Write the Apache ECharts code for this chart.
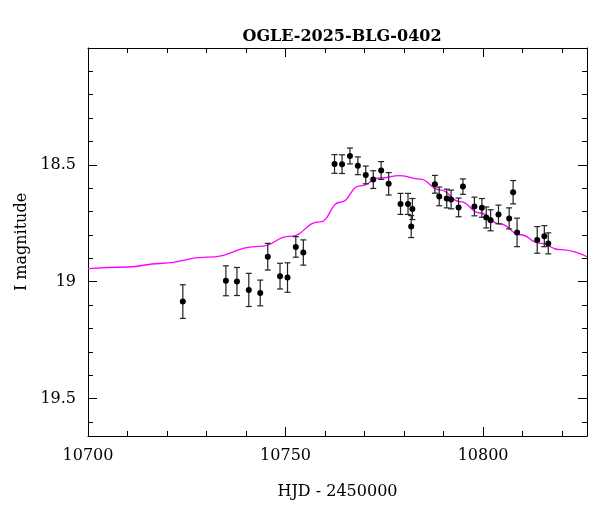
<!DOCTYPE html>
<html>
<head>
<meta charset="utf-8">
<script src="https://cdn.jsdelivr.net/npm/echarts@6/dist/echarts.min.js"></script>
<style>html,body{margin:0;background:#fff}#c{width:600px;height:512px}</style>
</head>
<body>
<div id="c"></div>
<script>
// observed points
var hjd = [10724.0, 10734.9, 10737.7, 10740.7, 10743.6, 10745.5, 10748.6, 10750.5, 10752.6, 10754.5,
    10762.4, 10764.3, 10766.3, 10768.3, 10770.3, 10772.2, 10774.2, 10776.1, 10779.1, 10781.0, 10782.1, 10781.8,
    10787.8, 10788.9, 10790.8, 10791.9, 10793.8, 10794.9, 10797.8, 10799.7, 10800.8, 10801.9, 10803.9,
    10806.6, 10807.6, 10808.6, 10813.7, 10815.5, 10816.5];
var mag = [19.085, 18.996, 18.999, 19.035, 19.048, 18.893, 18.976, 18.982, 18.851, 18.875,
    18.496, 18.497, 18.462, 18.504, 18.543, 18.563, 18.524, 18.581, 18.667, 18.667, 18.689, 18.764,
    18.583, 18.635, 18.644, 18.648, 18.682, 18.593, 18.678, 18.684, 18.725, 18.737, 18.712,
    18.729, 18.617, 18.789, 18.821, 18.805, 18.836];
var err = [0.072, 0.064, 0.060, 0.071, 0.055, 0.057, 0.055, 0.063, 0.044, 0.054,
    0.040, 0.040, 0.034, 0.038, 0.038, 0.038, 0.038, 0.048, 0.045, 0.045, 0.045, 0.047,
    0.038, 0.040, 0.040, 0.040, 0.040, 0.033, 0.040, 0.040, 0.045, 0.045, 0.040,
    0.045, 0.050, 0.061, 0.057, 0.045, 0.045];

// model curve
var modelT = [10700, 10710, 10718.2, 10730, 10743.5, 10751.1, 10758.7, 10763.8, 10768.9, 10773.9, 10779,
    10784, 10789.1, 10794.2, 10799.2, 10804.3, 10809.4, 10814.4, 10819.5, 10826.3];
var modelMag = [18.944, 18.937, 18.922, 18.895, 18.849, 18.806, 18.744, 18.66, 18.59, 18.556, 18.546,
    18.561, 18.607, 18.657, 18.706, 18.753, 18.799, 18.835, 18.863, 18.893];

var font = 'DejaVu Serif';
var chart = echarts.init(document.getElementById('c'));

var pts = hjd.map(function (t, i) { return [t, mag[i], err[i]]; });
var model = modelT.map(function (t, i) { return [t, modelMag[i]]; });

function xAxisDef(pos, labels) {
    return {
        type: 'value', position: pos, min: 10700, max: 10826.3, interval: 50,
        axisLine: { show: true, onZero: false, lineStyle: { color: '#000', width: 1 } },
        axisTick: { inside: true, length: 9, lineStyle: { color: '#000' } },
        minorTick: { show: true, splitNumber: 5, length: 5, lineStyle: { color: '#000' } },
        axisLabel: {
            show: labels, color: '#000', fontFamily: font, fontSize: 16, margin: 12, showMaxLabel: false,
            formatter: function (v) { return String(v); }
        },
        splitLine: { show: false },
        name: labels ? 'HJD - 2450000' : '', nameLocation: 'middle', nameGap: 48,
        nameTextStyle: { color: '#000', fontFamily: font, fontSize: 16 }
    };
}
function yAxisDef(pos, labels) {
    return {
        type: 'value', position: pos, inverse: true, min: 18, max: 19.66, interval: 0.5,
        axisLine: { show: true, onZero: false, lineStyle: { color: '#000', width: 1 } },
        axisTick: { inside: true, length: 9, lineStyle: { color: '#000' } },
        minorTick: { show: true, splitNumber: 5, length: 5, lineStyle: { color: '#000' } },
        axisLabel: {
            show: labels, color: '#000', fontFamily: font, fontSize: 16, margin: 12, showMaxLabel: false,
            formatter: function (v) { return v === 18 ? '' : String(v); }
        },
        splitLine: { show: false },
        name: labels ? 'I magnitude' : '', nameLocation: 'middle', nameGap: 58,
        nameTextStyle: { color: '#000', fontFamily: font, fontSize: 16 }
    };
}

chart.setOption({
    animation: false,
    title: {
        text: 'OGLE-2025-BLG-0402', left: 337, top: 24, textAlign: 'center',
        textStyle: { fontFamily: font, fontSize: 16, fontWeight: 'bold', color: '#000' }
    },
    grid: { left: 88, right: 13, top: 48, bottom: 76 },
    xAxis: [xAxisDef('bottom', true), xAxisDef('top', false)],
    yAxis: [yAxisDef('left', true), yAxisDef('right', false)],
    series: [
        {
            type: 'line', data: model, smooth: 0.5, smoothMonotone: 'x', showSymbol: false,
            lineStyle: { color: '#ff00ff', width: 1.3 }, z: 2
        },
        {
            type: 'custom', data: pts, z: 3,
            renderItem: function (params, api) {
                var t = api.value(0), m = api.value(1), e = api.value(2);
                var top = api.coord([t, m - e]), bot = api.coord([t, m + e]), c = api.coord([t, m]);
                var cap = 3, st = { stroke: '#222', lineWidth: 1.2 };
                return {
                    type: 'group', children: [
                        { type: 'line', shape: { x1: c[0], y1: top[1], x2: c[0], y2: bot[1] }, style: st },
                        { type: 'line', shape: { x1: c[0] - cap, y1: top[1], x2: c[0] + cap, y2: top[1] }, style: st },
                        { type: 'line', shape: { x1: c[0] - cap, y1: bot[1], x2: c[0] + cap, y2: bot[1] }, style: st },
                        { type: 'circle', shape: { cx: c[0], cy: c[1], r: 3 }, style: { fill: '#000' } }
                    ]
                };
            }
        }
    ]
});
</script>
</body>
</html>
